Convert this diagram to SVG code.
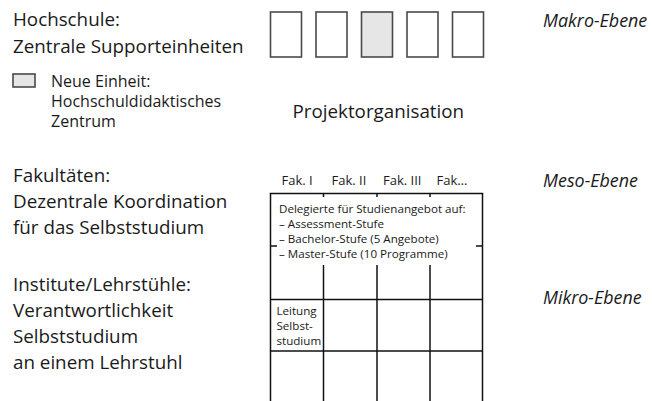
<svg xmlns="http://www.w3.org/2000/svg" width="652" height="401" viewBox="0 0 652 401">
<style>
  text { font-family: "Open Sans", "Liberation Sans", sans-serif; fill: #1a1a1a; }
  .big { font-size: 18.8px; }
  .leg { font-size: 16px; }
  .lvl { font-size: 17.9px; font-style: italic; }
  .fak { font-size: 13px; }
  .sm { font-size: 11.6px; }
  .unit { fill: #ffffff; stroke: #4a4a4a; stroke-width: 1.6; }
  .unit.new { fill: #e6e6e6; }
  .grid line { stroke: #111; stroke-width: 1.5; }
</style>
<rect width="652" height="401" fill="#ffffff"/>

<g id="hochschule-label">
  <text class="big" x="13" y="25.5">Hochschule:</text>
  <text class="big" x="13" y="52.5">Zentrale Supporteinheiten</text>
</g>

<g id="legend">
  <rect class="unit new" x="13" y="74" width="22" height="13"/>
  <text class="leg" x="51" y="87">Neue Einheit:</text>
  <text class="leg" x="51" y="107">Hochschuldidaktisches</text>
  <text class="leg" x="51" y="127">Zentrum</text>
</g>

<g id="support-units">
  <rect class="unit" x="270.5" y="12" width="31" height="45"/>
  <rect class="unit" x="316" y="12" width="31" height="45"/>
  <rect class="unit new" x="361.5" y="12" width="31" height="45"/>
  <rect class="unit" x="407" y="12" width="31" height="45"/>
  <rect class="unit" x="452.5" y="12" width="31" height="45"/>
</g>

<g id="projektorganisation">
  <text class="big" x="292.5" y="118">Projektorganisation</text>
</g>

<g id="levels">
  <text class="lvl" x="543" y="27">Makro-Ebene</text>
  <text class="lvl" x="543" y="187">Meso-Ebene</text>
  <text class="lvl" x="543" y="303.5">Mikro-Ebene</text>
</g>

<g id="fakultaeten-label">
  <text class="big" x="13" y="182">Fakultäten:</text>
  <text class="big" x="13" y="208">Dezentrale Koordination</text>
  <text class="big" x="13" y="234">für das Selbststudium</text>
</g>

<g id="institute-label">
  <text class="big" x="13" y="291">Institute/Lehrstühle:</text>
  <text class="big" x="13" y="317">Verantwortlichkeit</text>
  <text class="big" x="13" y="343">Selbststudium</text>
  <text class="big" x="13" y="369">an einem Lehrstuhl</text>
</g>

<g id="fak-headers">
  <text class="fak" x="281.5" y="185">Fak. I</text>
  <text class="fak" x="331.5" y="185">Fak. II</text>
  <text class="fak" x="383" y="185">Fak. III</text>
  <text class="fak" x="436.5" y="185">Fak…</text>
</g>

<g id="grid" class="grid">
  <line x1="269.75" y1="193.5" x2="483.25" y2="193.5"/>
  <line x1="270.5" y1="193.5" x2="270.5" y2="401"/>
  <line x1="482.5" y1="193.5" x2="482.5" y2="401"/>
  <line x1="323.5" y1="193.5" x2="323.5" y2="197"/>
  <line x1="377" y1="193.5" x2="377" y2="197"/>
  <line x1="430" y1="193.5" x2="430" y2="197"/>
  <line x1="270.5" y1="246" x2="277" y2="246"/>
  <line x1="476" y1="246" x2="482.5" y2="246"/>
  <line x1="323.5" y1="265" x2="323.5" y2="401"/>
  <line x1="377" y1="265" x2="377" y2="401"/>
  <line x1="430" y1="265" x2="430" y2="401"/>
  <line x1="270.5" y1="299.5" x2="482.5" y2="299.5"/>
  <line x1="270.5" y1="351" x2="482.5" y2="351"/>
</g>

<g id="delegierte">
  <text class="sm" x="279" y="212.5">Delegierte für Studienangebot auf:</text>
  <text class="sm" x="279" y="227.5">– Assessment-Stufe</text>
  <text class="sm" x="279" y="242.5">– Bachelor-Stufe (5 Angebote)</text>
  <text class="sm" x="279" y="257.5">– Master-Stufe (10 Programme)</text>
</g>

<g id="leitung">
  <text class="sm" x="276.5" y="315">Leitung</text>
  <text class="sm" x="276.5" y="330">Selbst-</text>
  <text class="sm" x="276.5" y="344.5">studium</text>
</g>

<g id="connectors"></g>
</svg>
